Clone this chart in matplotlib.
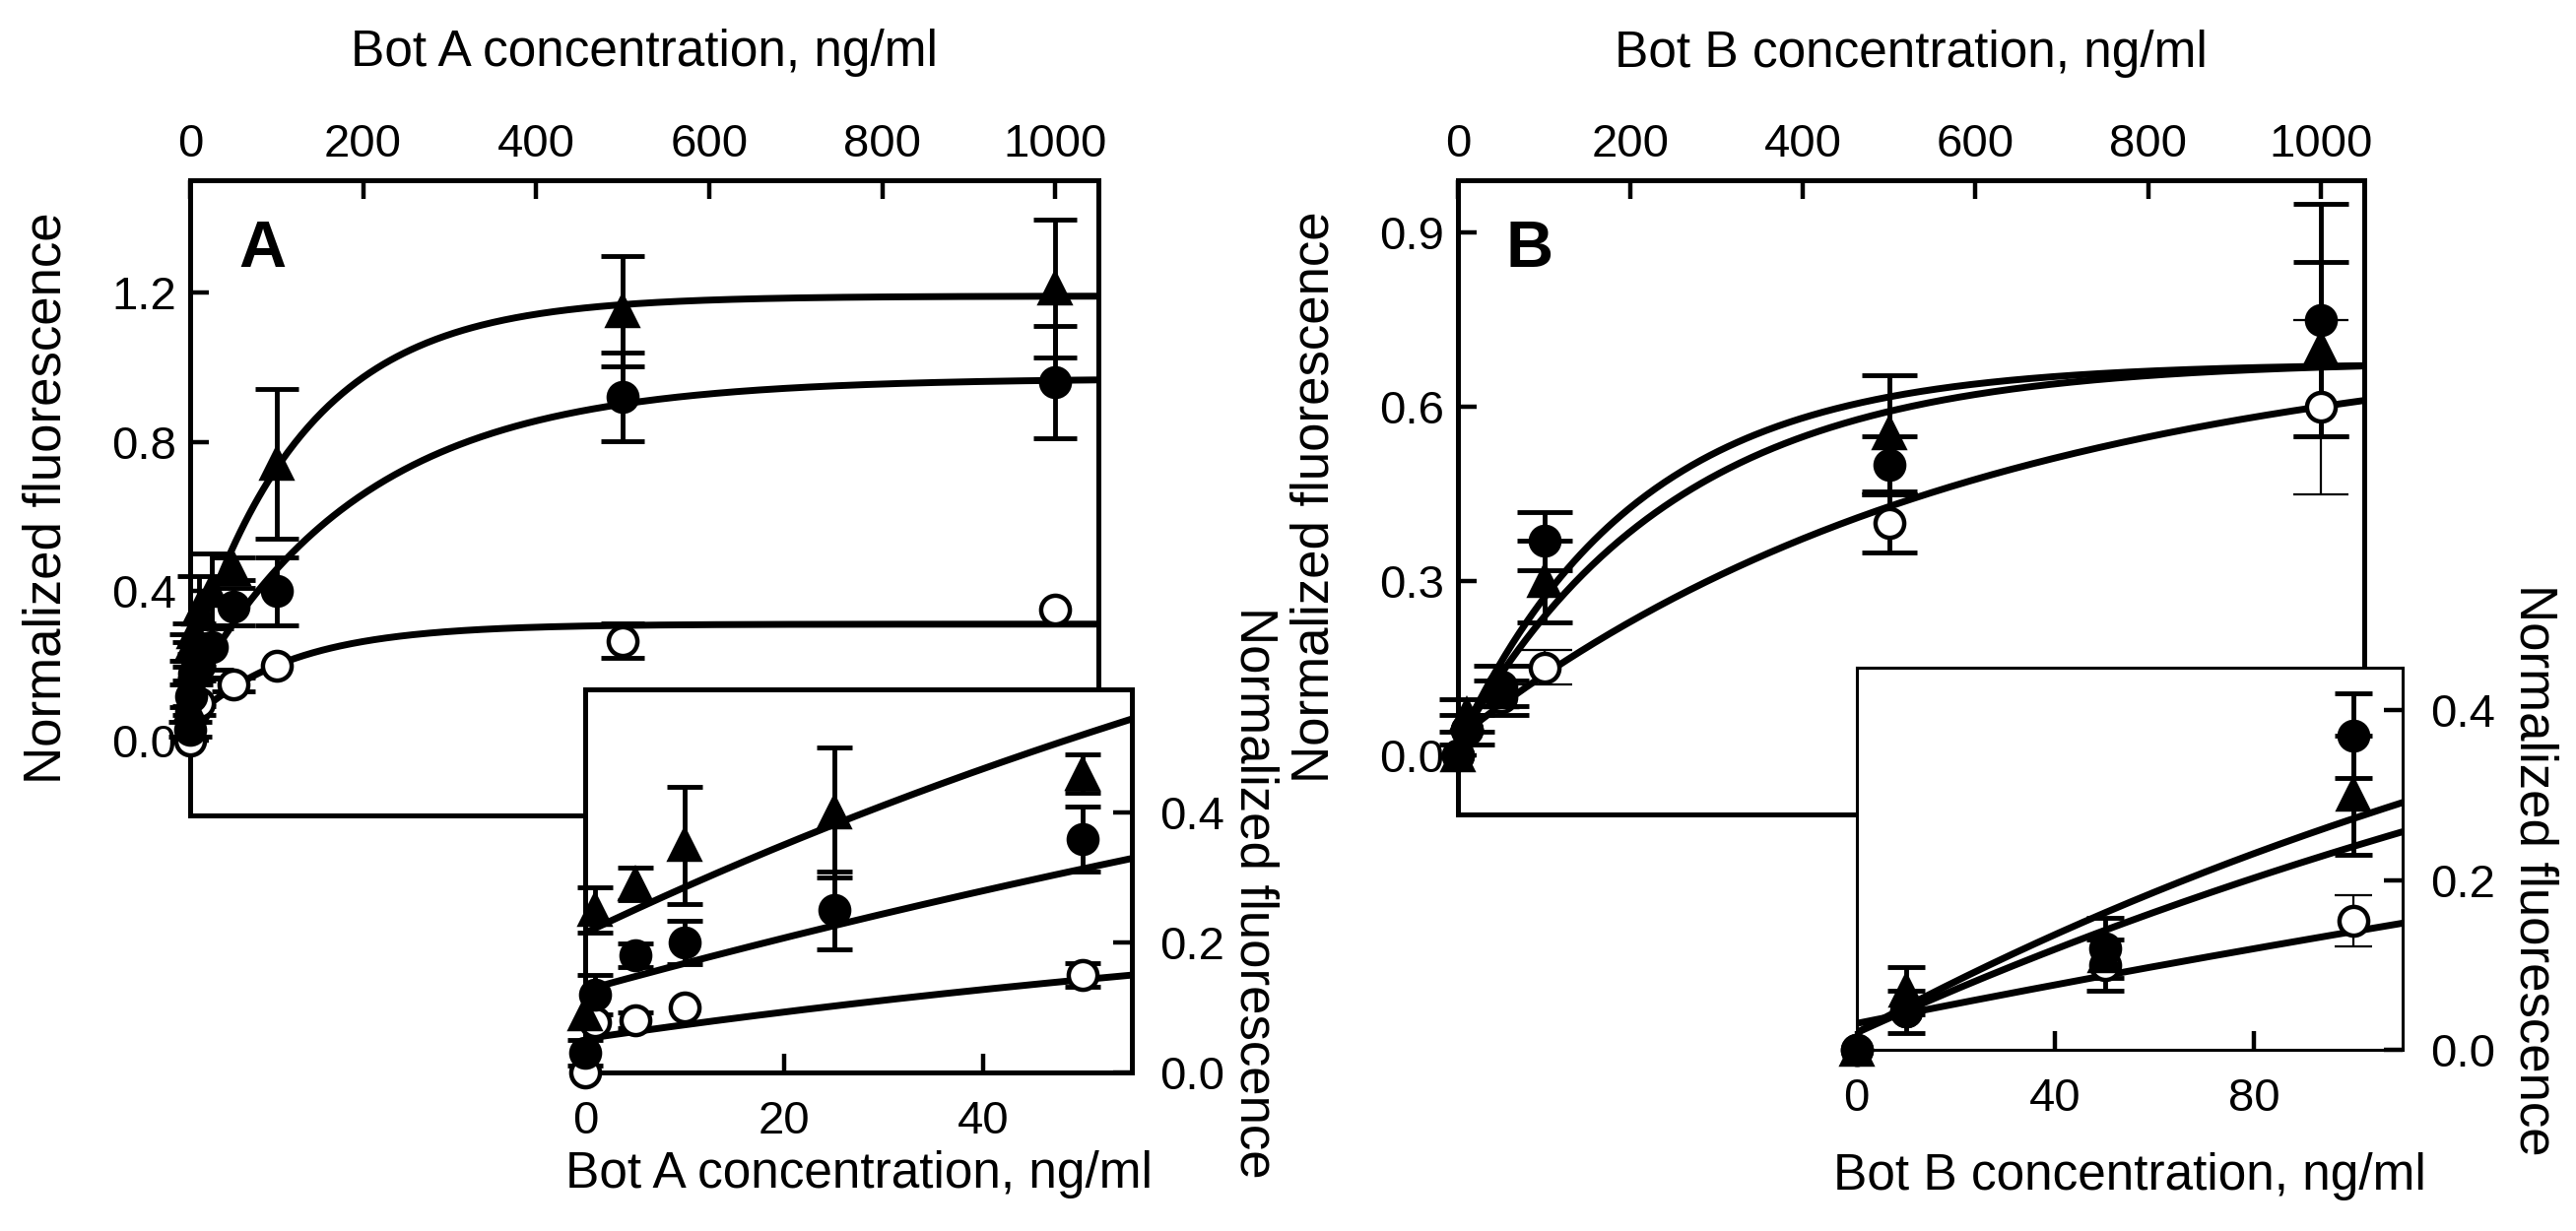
import numpy as np
import matplotlib
matplotlib.use("Agg")
import matplotlib.pyplot as plt

plt.rcParams['font.family'] = ['Liberation Sans', 'DejaVu Sans']

# Bot A, concentrations in ng/ml
conc_a = [0, 1, 5, 10, 25, 50, 100, 500, 1000]
tri_a = [0.09, 0.25, 0.29, 0.35, 0.40, 0.46, 0.74, 1.15, 1.21]
tri_a_err = [0.0, 0.035, 0.025, 0.09, 0.10, 0.03, 0.20, 0.147, 0.185]
dot_a = [0.03, 0.12, 0.18, 0.20, 0.25, 0.36, 0.40, 0.92, 0.96]
dot_a_err = [0.02, 0.03, 0.018, 0.033, 0.06, 0.05, 0.09, 0.118, 0.15]
conc_a_open = [0, 1, 5, 10, 50, 100, 500, 1000]
open_a = [0.0, 0.077, 0.08, 0.10, 0.15, 0.20, 0.267, 0.35]
open_a_err = [0.0, 0.0, 0.012, 0.0, 0.018, 0.0, 0.046, 0.0]

# fitted curves for Bot A: (offset, amplitude, rate)
fit_tri_a = (0.215, 0.975, 0.0075)
fit_dot_a = (0.127, 0.843, 0.005)
fit_open_a = (0.052, 0.26, 0.0086)

# Bot B
conc_b = [0, 10, 50, 100, 500, 1000]
dot_b = [0.0, 0.045, 0.12, 0.37, 0.50, 0.75]
dot_b_err = [0.0, 0.025, 0.035, 0.05, 0.05, 0.20]
tri_b = [0.0, 0.07, 0.11, 0.30, 0.555, 0.70]
tri_b_err = [0.0, 0.028, 0.0, 0.07, 0.10, 0.15]
open_b = [0.0, 0.045, 0.10, 0.152, 0.40, 0.60]
open_b_err = [0.0, 0.0, 0.03, 0.03, 0.05, 0.15]

fit_b1 = (0.02, 0.655, 0.00486)
fit_b2 = (0.02, 0.66, 0.00404)
fit_open_b = (0.031, 0.70, 0.00168)


def fit_curve(x, y0, a, k):
    return y0 + a * (1 - np.exp(-k * x))


def draw_series(ax, x, y, err, marker, filled, capsize, xmax,
                elw=3.5, ms=21, idx=None):
    x, y, err = np.asarray(x), np.asarray(y), np.asarray(err)
    keep = x <= xmax
    has_err = (err > 0) & keep
    if idx is not None:
        mask = np.zeros(len(x), bool)
        mask[idx] = True
        has_err &= mask
    if has_err.any():
        eb = ax.errorbar(x[has_err], y[has_err], yerr=err[has_err], fmt='none',
                         ecolor='k', elinewidth=elw, capsize=capsize,
                         capthick=elw, zorder=3)
        for art in list(eb.lines[1]) + list(eb.lines[2]):
            art.set_clip_on(False)
    if marker is not None:
        ax.plot(x[keep], y[keep], ls='none', marker=marker, ms=ms,
                mfc='k' if filled else 'w', mec='k', mew=3.2,
                clip_on=False, zorder=4)


def draw_fit(ax, params, xmax):
    xs = np.linspace(0, xmax, 400)
    ax.plot(xs, fit_curve(xs, *params), color='k', lw=5, zorder=2)


def style_main(ax, xlabel, yticks, ylim, letter):
    ax.set_xlim(0, 1050)
    ax.set_ylim(*ylim)
    ax.xaxis.tick_top()
    ax.set_xticks([0, 200, 400, 600, 800, 1000])
    ax.set_yticks(yticks)
    ax.set_yticklabels(['%.1f' % v for v in yticks])
    ax.tick_params(axis='both', direction='in', length=14, width=3.2,
                   labelsize=34, pad=10)
    for sp in ax.spines.values():
        sp.set_linewidth(3.6)
    ax.xaxis.set_label_position('top')
    ax.set_xlabel(xlabel, fontsize=37)
    ax.xaxis.label.set_va('center')
    ax.xaxis.set_label_coords(0.5, 1.20)
    ax.set_ylabel('Normalized fluorescence', fontsize=38, va='center')
    ax.yaxis.set_label_coords(-0.158, 0.5)
    ax.text(0.053, 0.864, letter, transform=ax.transAxes, fontsize=48,
            fontweight='bold', va='baseline', ha='left')


def style_inset(ax, xlabel, xticks, xlim, ylim, spine_w, xlab_y, ylab_x):
    ax.set_xlim(*xlim)
    ax.set_ylim(*ylim)
    ax.set_facecolor('white')
    ax.yaxis.tick_right()
    ax.set_xticks(xticks)
    ax.set_yticks([0.0, 0.2, 0.4])
    ax.set_yticklabels(['0.0', '0.2', '0.4'])
    ax.tick_params(axis='both', direction='in', length=14, width=3.2,
                   labelsize=34, pad=20)
    for sp in ax.spines.values():
        sp.set_linewidth(spine_w)
    ax.set_xlabel(xlabel, fontsize=37)
    ax.xaxis.label.set_va('center')
    ax.xaxis.set_label_coords(0.5, xlab_y)
    ax.yaxis.set_label_position('right')
    ax.set_ylabel('Normalized fluorescence', fontsize=38, rotation=270)
    ax.yaxis.label.set_va('center')
    ax.yaxis.set_label_coords(ylab_x, 0.47)


def main():
    fig = plt.figure(figsize=(26.15, 12.5), dpi=100)

    # Panel A
    ax_a = fig.add_axes([0.0738, 0.3376, 0.3526, 0.516])
    for p in (fit_tri_a, fit_dot_a, fit_open_a):
        draw_fit(ax_a, p, 1050)
    draw_series(ax_a, conc_a_open, open_a, open_a_err, 'o', False, 16, 1050)
    draw_series(ax_a, conc_a, dot_a, dot_a_err, 'o', True, 16, 1050)
    draw_series(ax_a, conc_a, tri_a, tri_a_err, '^', True, 16, 1050)
    style_main(ax_a, 'Bot A concentration, ng/ml', [0.0, 0.4, 0.8, 1.2],
               (-0.2, 1.5), 'A')

    ins_a = fig.add_axes([0.2273, 0.1288, 0.2122, 0.3112], zorder=5)
    for p in (fit_tri_a, fit_dot_a, fit_open_a):
        draw_fit(ins_a, p, 55)
    draw_series(ins_a, conc_a_open, open_a, open_a_err, 'o', False, 13, 55)
    draw_series(ins_a, conc_a, dot_a, dot_a_err, 'o', True, 13, 55)
    draw_series(ins_a, conc_a, tri_a, tri_a_err, '^', True, 13, 55)
    style_inset(ins_a, 'Bot A concentration, ng/ml', [0, 20, 40], (0, 55),
                (0, 0.59), 3.6, -0.265, 1.223)

    # Panel B
    ax_b = fig.add_axes([0.566, 0.3388, 0.3516, 0.5148])
    for p in (fit_b1, fit_b2, fit_open_b):
        draw_fit(ax_b, p, 1050)
    draw_series(ax_b, conc_b, open_b, open_b_err, None, False, 20, 1050, idx=[2, 4])
    draw_series(ax_b, conc_b, open_b, open_b_err, None, False, 20, 1050, elw=1.6, idx=[3, 5])
    draw_series(ax_b, conc_b, open_b, open_b_err, 'o', False, 20, 1050, idx=[])
    draw_series(ax_b, conc_b, tri_b, tri_b_err, '^', True, 20, 1050)
    draw_series(ax_b, conc_b, dot_b, dot_b_err, 'o', True, 20, 1050)
    style_main(ax_b, 'Bot B concentration, ng/ml', [0.0, 0.3, 0.6, 0.9],
               (-0.1, 0.99), 'B')

    ins_b = fig.add_axes([0.7207, 0.1472, 0.212, 0.3104], zorder=5)
    for p in (fit_b1, fit_b2, fit_open_b):
        draw_fit(ins_b, p, 110)
    draw_series(ins_b, conc_b, open_b, open_b_err, None, False, 14, 110, idx=[2, 4])
    draw_series(ins_b, conc_b, open_b, open_b_err, None, False, 14, 110, elw=1.6, idx=[3, 5])
    draw_series(ins_b, conc_b, open_b, open_b_err, 'o', False, 14, 110, idx=[])
    draw_series(ins_b, conc_b, tri_b, tri_b_err, '^', True, 14, 110)
    draw_series(ins_b, conc_b, dot_b, dot_b_err, 'o', True, 14, 110)
    style_inset(ins_b, 'Bot B concentration, ng/ml', [0, 40, 80], (0, 110),
                (0, 0.45), 2.2, -0.332, 1.24)

    fig.savefig('out.png', dpi=100)


if __name__ == "__main__":
    main()
